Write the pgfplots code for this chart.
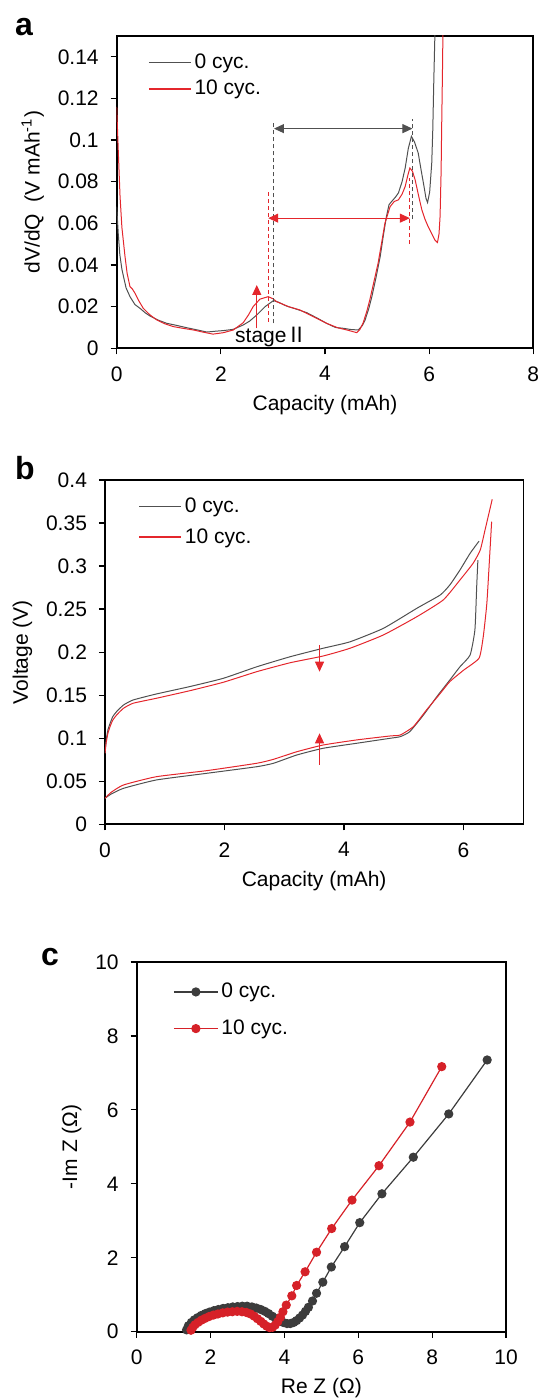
\documentclass[border=0pt]{standalone}
\usepackage{fontspec}
\setmainfont{Liberation Sans}
\newfontfamily\cjk{Noto Sans CJK SC}
\usepackage{pgfplots}
\pgfplotsset{compat=1.18}
\usetikzlibrary{arrows.meta}
\definecolor{cgray}{RGB}{80,80,80}
\definecolor{cred}{RGB}{228,38,44}
\definecolor{dgray}{RGB}{60,60,60}
\definecolor{dred}{RGB}{214,33,40}

\pgfplotsset{
  every axis/.append style={
    scale only axis,
    font=\fontsize{10.5}{12.5}\selectfont,
    axis line style={line width=0.8pt},
    tick align=outside, tick pos=left,
    major tick length=3pt,
    tick style={black, line width=0.6pt},
    yticklabel style={xshift=-2.5pt},
    xticklabel style={yshift=-2.5pt},
    /pgf/number format/assume math mode=true,
    legend cell align=left,
    legend style={draw=none, fill=none, inner sep=0pt, nodes={inner xsep=1.5pt, inner ysep=0pt}},
  },
}
\tikzset{tri/.tip={Triangle[length=5pt,width=4.5pt]}}

\begin{document}
\begin{tikzpicture}
\path[use as bounding box] (0,0) rectangle (271.5pt,700pt);
\node[font=\bfseries\fontsize{16}{16}\selectfont] at (12pt,686.5pt) {a};
\node[font=\bfseries\fontsize{16}{16}\selectfont] at (12.5pt,466pt) {b};
\node[font=\bfseries\fontsize{16}{16}\selectfont] at (25pt,221.5pt) {c};

% ---------------- panel a ----------------
\begin{axis}[at={(58.35pt,525.85pt)}, anchor=south west,
  width=208.3pt, height=156.15pt,
  xmin=0, xmax=8, ymin=0, ymax=0.15,
  xtick={0,2,4,6,8},
  ytick={0,0.02,0.04,0.06,0.08,0.1,0.12,0.14},
  yticklabels={0,0.02,0.04,0.06,0.08,0.1,0.12,0.14},
  xlabel={Capacity (mAh)},
  ylabel={dV/dQ\ \ (V mAh\textsuperscript{-1})},
  legend style={at={(axis description cs:0.075,0.945)}, anchor=north west, row sep=4.5pt},
]
\addlegendimage{legend image code/.code={\draw[cgray, line width=0.6pt] (0pt,0pt) -- (21pt,0pt);}}
\addlegendentry{0 cyc.}
\addlegendimage{legend image code/.code={\draw[cred, line width=0.6pt] (0pt,0pt) -- (21pt,0pt);}}
\addlegendentry{10 cyc.}
\addplot[cgray, line width=0.5pt, forget plot] coordinates {
(0,0.068) (0.03,0.055) (0.06,0.045) (0.10,0.038) (0.13,0.0345) (0.18,0.029)
(0.255,0.0248) (0.35,0.021) (0.447,0.0192) (0.55,0.017) (0.64,0.0155) (0.8,0.0135)
(0.96,0.012) (1.15,0.011) (1.34,0.0099) (1.55,0.0088) (1.73,0.0078) (1.9,0.0082)
(2.05,0.0085) (2.24,0.0091) (2.43,0.0112) (2.55,0.013) (2.69,0.016) (2.85,0.020)
(3.01,0.0229) (3.1,0.0222) (3.26,0.0203) (3.45,0.0188) (3.65,0.0171) (3.85,0.0145)
(4.03,0.012) (4.2,0.010) (4.35,0.0096) (4.5,0.009) (4.64,0.0088) (4.72,0.011)
(4.77,0.0136) (4.84,0.019) (4.90,0.0248) (4.98,0.034) (5.06,0.044) (5.12,0.054)
(5.18,0.0633) (5.23,0.069) (5.28,0.0705) (5.35,0.0725) (5.41,0.0746) (5.48,0.080)
(5.54,0.0866) (5.60,0.096) (5.66,0.1018) (5.72,0.099) (5.79,0.0938) (5.85,0.085)
(5.89,0.0794) (5.94,0.072) (5.97,0.070) (6.01,0.075) (6.05,0.089) (6.07,0.105)
(6.09,0.129) (6.11,0.15) (6.13,0.2)};
\addplot[cred, line width=0.5pt, forget plot] coordinates {
(0,0.116) (0.03,0.095) (0.064,0.073) (0.10,0.058) (0.16,0.044) (0.2,0.036)
(0.255,0.0296) (0.30,0.0285) (0.35,0.0265) (0.42,0.023) (0.51,0.0192) (0.64,0.016)
(0.77,0.0136) (0.92,0.0118) (1.09,0.0104) (1.27,0.0096) (1.47,0.0088) (1.65,0.0078)
(1.85,0.0068) (2.05,0.0075) (2.24,0.0088) (2.43,0.0123) (2.53,0.016) (2.62,0.020)
(2.75,0.0236) (2.91,0.0248) (3.0,0.0238) (3.07,0.0224) (3.3,0.020) (3.52,0.0184)
(3.75,0.0155) (4.03,0.012) (4.25,0.0098) (4.42,0.0088) (4.61,0.0075) (4.67,0.009)
(4.73,0.012) (4.80,0.0175) (4.86,0.0232) (4.94,0.032) (5.02,0.0409) (5.09,0.051)
(5.15,0.060) (5.25,0.068) (5.33,0.0705) (5.41,0.0713) (5.48,0.074) (5.54,0.0777)
(5.59,0.083) (5.63,0.0866) (5.68,0.085) (5.73,0.081) (5.80,0.073) (5.86,0.0665)
(5.92,0.062) (5.98,0.0585) (6.05,0.055) (6.11,0.052) (6.16,0.0508) (6.19,0.055)
(6.21,0.0633) (6.23,0.085) (6.24,0.105) (6.26,0.14) (6.28,0.2)};
\draw[cgray, line width=0.5pt, dash pattern=on 2pt off 1.5pt] (axis cs:3.02,0.012) -- (axis cs:3.02,0.108);
\draw[cgray, line width=0.5pt, dash pattern=on 2pt off 1.5pt] (axis cs:5.68,0.062) -- (axis cs:5.68,0.110);
\draw[cgray, line width=0.5pt, {tri}-{tri}] (axis cs:3.02,0.1055) -- (axis cs:5.68,0.1055);
\draw[cred, line width=0.5pt, dash pattern=on 2pt off 1.5pt] (axis cs:2.91,0.0128) -- (axis cs:2.91,0.076);
\draw[cred, line width=0.5pt, dash pattern=on 2pt off 1.5pt] (axis cs:5.63,0.050) -- (axis cs:5.63,0.082);
\draw[cred, line width=0.5pt, {tri}-{tri}] (axis cs:2.91,0.0625) -- (axis cs:5.63,0.0625);
\draw[cred, line width=0.6pt, -{tri}] (axis cs:2.69,0.0096) -- (axis cs:2.69,0.0304);
\node[font=\fontsize{10.5}{12}\selectfont, inner sep=0pt] at (axis cs:2.97,0.0056) {stage{\cjk Ⅱ}};
\end{axis}

% ---------------- panel b ----------------
\begin{axis}[at={(52.5pt,287.85pt)}, anchor=south west,
  width=209.15pt, height=172.15pt,
  xmin=0, xmax=7, ymin=0, ymax=0.4,
  xtick={0,2,4,6},
  ytick={0,0.05,0.1,0.15,0.2,0.25,0.3,0.35,0.4},
  yticklabels={0,0.05,0.1,0.15,0.2,0.25,0.3,0.35,0.4},
  xlabel={Capacity (mAh)},
  ylabel={Voltage (V)},
  legend style={at={(axis description cs:0.079,0.949)}, anchor=north west, row sep=6.5pt},
]
\addlegendimage{legend image code/.code={\draw[cgray, line width=0.6pt] (0pt,0pt) -- (21pt,0pt);}}
\addlegendentry{0 cyc.}
\addlegendimage{legend image code/.code={\draw[cred, line width=0.75pt] (0pt,0.3pt) -- (21pt,0.3pt);}}
\addlegendentry{10 cyc.}
\addplot[cgray, line width=0.5pt, smooth, tension=0.3, forget plot] coordinates {
(0,0.083) (0.02,0.098) (0.05,0.110) (0.084,0.117) (0.13,0.125) (0.195,0.131)
(0.31,0.1386) (0.47,0.1444) (0.86,0.1514) (1.42,0.160) (1.98,0.1696) (2.54,0.183)
(3.10,0.1947) (3.65,0.2045) (4.10,0.212) (4.66,0.2277) (5.22,0.251) (5.61,0.2664)
(5.77,0.278) (5.94,0.2954) (6.11,0.3148) (6.26,0.329)};
\addplot[cred, line width=0.5pt, smooth, tension=0.3, forget plot] coordinates {
(0,0.0825) (0.02,0.095) (0.05,0.106) (0.084,0.1134) (0.13,0.121) (0.195,0.127)
(0.31,0.1348) (0.47,0.1406) (0.86,0.1464) (1.42,0.1552) (1.98,0.165) (2.54,0.1773)
(3.10,0.1877) (3.65,0.1955) (4.10,0.2045) (4.66,0.220) (5.22,0.2412) (5.66,0.2606)
(5.94,0.2838) (6.16,0.3032) (6.28,0.3187) (6.36,0.342) (6.48,0.3776)};
\addplot[cgray, line width=0.5pt, smooth, tension=0.3, forget plot] coordinates {
(0,0.0302) (0.1,0.035) (0.31,0.0418) (0.86,0.0515) (1.70,0.0592) (2.54,0.0669)
(2.82,0.0709) (3.21,0.0805) (3.65,0.0883) (4.21,0.0941) (4.77,0.0999) (4.94,0.1018)
(5.10,0.1076) (5.33,0.127) (5.55,0.148) (5.77,0.1676) (5.94,0.183) (6.11,0.1967)
(6.19,0.2257) (6.22,0.276) (6.24,0.307)};
\addplot[cred, line width=0.5pt, smooth, tension=0.3, forget plot] coordinates {
(0,0.0302) (0.1,0.037) (0.31,0.0457) (0.86,0.0553) (1.70,0.0623) (2.54,0.0709)
(2.82,0.0755) (3.21,0.0843) (3.65,0.0921) (4.21,0.098) (4.77,0.1026) (4.94,0.1037)
(5.16,0.1134) (5.38,0.1328) (5.61,0.152) (5.77,0.1657) (6.00,0.179) (6.26,0.193)
(6.33,0.218) (6.39,0.2567) (6.44,0.315) (6.47,0.3515)};
\draw[cred, line width=0.5pt, -{tri}] (axis cs:3.59,0.2083) -- (axis cs:3.59,0.1773);
\draw[cred, line width=0.5pt, -{tri}] (axis cs:3.59,0.0689) -- (axis cs:3.59,0.1057);
\end{axis}

% ---------------- panel c ----------------
\begin{axis}[at={(68.35pt,34.15pt)}, anchor=south west,
  width=184.65pt, height=184.85pt,
  xmin=0, xmax=10, ymin=0, ymax=10,
  xtick={0,2,4,6,8,10}, ytick={0,2,4,6,8,10},
  xlabel={Re Z (Ω)},
  ylabel={-Im Z (Ω)},
  clip=false,
  legend image code/.code={\draw[mark repeat=2,mark phase=2,#1] plot coordinates {(0pt,0pt) (11pt,0pt) (22pt,0pt)};},
  legend style={at={(axis description cs:0.098,0.944)}, anchor=north west, row sep=9.5pt},
]
\addplot[dgray, line width=0.6pt, mark=*, mark size=2pt, mark options={fill=dgray, draw=dgray}] coordinates {
(1.35,0.05) (1.40,0.16) (1.48,0.25) (1.56,0.32) (1.65,0.38) (1.75,0.44)
(1.86,0.49) (1.97,0.53) (2.09,0.57) (2.21,0.60) (2.34,0.63) (2.47,0.65)
(2.60,0.67) (2.73,0.68) (2.86,0.69) (2.99,0.69) (3.12,0.67) (3.24,0.64)
(3.36,0.60) (3.47,0.55) (3.57,0.49) (3.67,0.42) (3.77,0.35) (3.87,0.29)
(3.97,0.25) (4.07,0.22) (4.16,0.22) (4.25,0.25) (4.33,0.30) (4.41,0.37)
(4.49,0.45) (4.57,0.55) (4.65,0.66) (4.76,0.83) (4.87,1.04) (5.04,1.34)
(5.27,1.75) (5.63,2.30) (6.04,2.95) (6.64,3.73) (7.49,4.72) (8.45,5.89) (9.49,7.35)};
\addlegendentry{0 cyc.}
\addplot[dred, line width=0.6pt, mark=*, mark size=2pt, mark options={fill=dred, draw=dred}] coordinates {
(1.47,0.04) (1.52,0.12) (1.58,0.19) (1.66,0.25) (1.75,0.31) (1.85,0.36)
(1.96,0.41) (2.08,0.45) (2.20,0.48) (2.33,0.51) (2.46,0.53) (2.59,0.54)
(2.72,0.55) (2.85,0.54) (2.97,0.52) (3.08,0.48) (3.18,0.42) (3.27,0.35)
(3.36,0.28) (3.44,0.21) (3.52,0.15) (3.60,0.11) (3.68,0.12) (3.75,0.18)
(3.82,0.27) (3.89,0.39) (3.96,0.54) (4.05,0.72) (4.20,0.97) (4.33,1.25)
(4.56,1.62) (4.87,2.15) (5.28,2.79) (5.83,3.56) (6.56,4.49) (7.40,5.67) (8.26,7.17)};
\addlegendentry{10 cyc.}
\end{axis}
\end{tikzpicture}
\end{document}
